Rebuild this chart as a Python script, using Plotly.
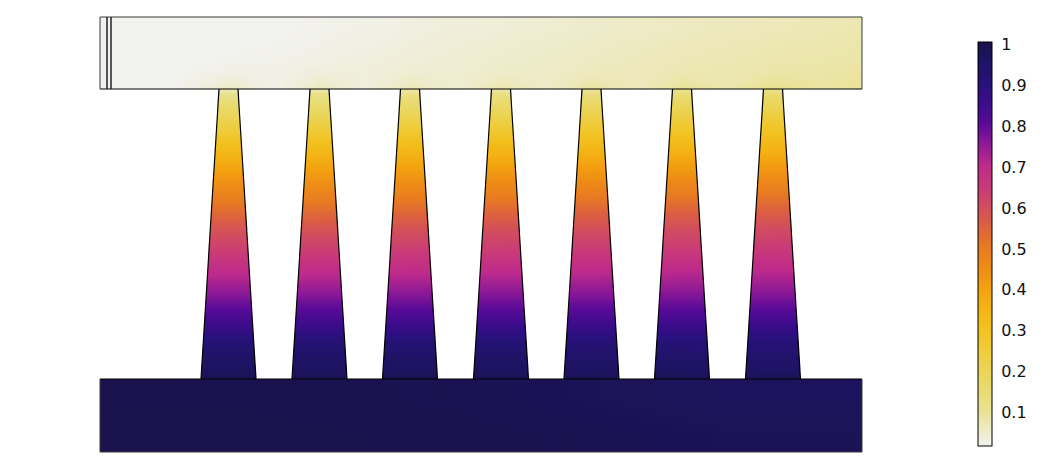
import plotly.graph_objects as go

# model coordinates (origin: lower-left corner of the base plate)
X_MAX, BASE_TOP, FIN_TOP, PLATE_TOP = 762, 73, 363, 435
fin_centers = [128.5, 219.5, 310, 401, 491.5, 582, 673]
fin_half_root = 27.5
fin_half_tip = 9.5
end_cap_lines = [7, 11]

# colour table
cb_values = [0.012, 0.05, 0.1, 0.15, 0.2, 0.25, 0.3, 0.35, 0.4, 0.45, 0.5, 0.55, 0.6, 0.65, 0.7, 0.75, 0.8, 0.85, 0.9, 0.95, 1.0]
cb_colors = ["#f2f2f0", "#eeebc8", "#e9e190", "#e9db70", "#ebd455", "#efcb38", "#f2c11f", "#f4b314", "#f3a010",
             "#ee8c16", "#e87a22", "#dc6040", "#d04c60", "#c8387a", "#bd2a8b", "#8f1a96", "#5a0a98", "#3c0c8c",
             "#27127a", "#1e1364", "#19124a"]
tick_vals = [0.1, 0.2, 0.3, 0.4, 0.5, 0.6, 0.7, 0.8, 0.9, 1]
# labels sit slightly below their tick marks in the reference
label_vals = [0.094, 0.194, 0.294, 0.394, 0.494, 0.594, 0.694, 0.794, 0.894, 0.994]
tick_text = ["0.1", "0.2", "0.3", "0.4", "0.5", "0.6", "0.7", "0.8", "0.9", "1"]

# top plate field
plate_x_edges = [0, 40, 110, 147, 201, 238, 292, 328, 383, 419, 473, 510, 564, 600, 654, 691, 745, 762]
plate_y_edges = [363, 369, 378, 395, 415, 435]
plate_z = [
    [.012, .014, .050, .020, .055, .030, .062, .040, .070, .050, .080, .060, .090, .075, .100, .085, .090],
    [.012, .014, .035, .020, .042, .030, .050, .040, .058, .050, .068, .060, .077, .070, .087, .082, .088],
    [.012, .013, .018, .020, .027, .030, .037, .040, .047, .050, .057, .060, .067, .070, .075, .078, .082],
    [.012, .012, .013, .015, .020, .026, .032, .037, .042, .047, .052, .057, .062, .066, .070, .073, .077],
    [.012, .012, .012, .013, .016, .021, .027, .032, .036, .041, .046, .051, .055, .059, .063, .067, .071],
]

# base plate field
base_x_edges = [0, 250, 500, 762]
base_y_edges = [0, 36, 73]
base_z = [[.998, .990, .975], [.992, .983, .965]]

# fin field (rows bottom to tip, columns fin 1 to 7)
fin_x_edges = [83, 174, 265, 356, 446, 537, 627, 718]
fin_y_edges = [73, 78, 112, 132, 152, 172, 192, 212, 232, 252, 272, 292, 312, 330, 344, 358, 363]
fin_z = [
    [.985, .985, .985, .985, .980, .980, .975],
    [.945, .945, .945, .945, .940, .940, .935],
    [.870, .870, .870, .870, .870, .870, .870],
    [.805, .805, .805, .805, .805, .805, .805],
    [.745, .745, .745, .750, .750, .750, .750],
    [.690, .690, .690, .695, .695, .700, .700],
    [.635, .635, .640, .640, .645, .645, .650],
    [.585, .585, .590, .595, .595, .600, .605],
    [.525, .525, .530, .535, .540, .545, .550],
    [.465, .465, .470, .475, .480, .485, .490],
    [.395, .400, .405, .410, .415, .420, .425],
    [.325, .330, .335, .340, .345, .350, .355],
    [.250, .255, .260, .265, .275, .280, .290],
    [.190, .195, .200, .205, .215, .225, .235],
    [.135, .140, .145, .150, .160, .170, .180],
    [.075, .080, .085, .090, .100, .110, .120],
]

fig = go.Figure()
fig.add_trace(go.Heatmap(x=fin_x_edges, y=fin_y_edges, z=fin_z, coloraxis="coloraxis", zsmooth="best", hoverinfo="skip"))

gap_x, gap_y, fin_x, fin_y = [], [], [], []
lefts = [70] + [c + fin_half_root for c in fin_centers]
lefts_tip = [70] + [c + fin_half_tip for c in fin_centers]
rights = [c - fin_half_root for c in fin_centers] + [730]
rights_tip = [c - fin_half_tip for c in fin_centers] + [730]
for a, at, b, bt in zip(lefts, lefts_tip, rights, rights_tip):
    gap_x += [a, at, bt, b, a, None]
    gap_y += [BASE_TOP, FIN_TOP, FIN_TOP, BASE_TOP, BASE_TOP, None]
for c in fin_centers:
    fin_x += [c - fin_half_root, c - fin_half_tip, None, c + fin_half_root, c + fin_half_tip, None]
    fin_y += [BASE_TOP, FIN_TOP, None, BASE_TOP, FIN_TOP, None]
fig.add_trace(go.Scatter(x=gap_x, y=gap_y, mode="none", fill="toself", fillcolor="white", hoverinfo="skip"))

fig.add_trace(go.Heatmap(x=plate_x_edges, y=plate_y_edges, z=plate_z, coloraxis="coloraxis", zsmooth="best", hoverinfo="skip"))
fig.add_trace(go.Heatmap(x=base_x_edges, y=base_y_edges, z=base_z, coloraxis="coloraxis", zsmooth="best", hoverinfo="skip"))

line = dict(color="#000000", width=1.2)
fig.add_trace(go.Scatter(x=fin_x, y=fin_y, mode="lines", line=line, hoverinfo="skip"))
fig.add_trace(go.Scatter(x=[0, X_MAX, None, 0, X_MAX], y=[FIN_TOP, FIN_TOP, None, BASE_TOP, BASE_TOP], mode="lines", line=line, hoverinfo="skip"))
grey = dict(color="#3a3a3a", width=1)
fig.add_trace(go.Scatter(x=[0, 0, X_MAX, X_MAX, None, 0, 0, X_MAX, X_MAX],
                         y=[FIN_TOP, PLATE_TOP, PLATE_TOP, FIN_TOP, None, BASE_TOP, 0, 0, BASE_TOP],
                         mode="lines", line=grey, hoverinfo="skip"))
fig.add_trace(go.Scatter(x=[end_cap_lines[0], end_cap_lines[0], None, end_cap_lines[1], end_cap_lines[1]],
                         y=[FIN_TOP, PLATE_TOP, None, FIN_TOP, PLATE_TOP], mode="lines",
                         line=dict(color="#222222", width=1.5), hoverinfo="skip"))

# colour-bar ticks on both sides of the bar
BAR_LEFT, BAR_RIGHT, BAR_BOTTOM, BAR_HEIGHT = 878, 892, 6, 404
tx, ty = [], []
for v in tick_vals[:-1]:
    yy = BAR_BOTTOM + (v - cb_values[0]) / (cb_values[-1] - cb_values[0]) * BAR_HEIGHT
    tx += [BAR_LEFT, BAR_LEFT + 4, None, BAR_RIGHT - 4, BAR_RIGHT, None]
    ty += [yy, yy, None, yy, yy, None]
fig.add_trace(go.Scatter(x=tx, y=ty, mode="lines", line=dict(color="black", width=1), hoverinfo="skip"))

scale = [[(v - cb_values[0]) / (cb_values[-1] - cb_values[0]), c] for v, c in zip(cb_values, cb_colors)]
# the page body adds 8 px on the left and top, so the figure is 8 px smaller than the window
fig.update_layout(
    width=1050, height=461, margin=dict(l=0, r=0, t=0, b=0), showlegend=False,
    paper_bgcolor="white", plot_bgcolor="white",
    xaxis=dict(range=[-92, 958], domain=[0, 1], visible=False, fixedrange=True),
    yaxis=dict(range=[-17, 444], domain=[0, 1], visible=False, fixedrange=True),
    coloraxis=dict(
        colorscale=scale, cmin=cb_values[0], cmax=cb_values[-1],
        colorbar=dict(
            x=970 / 1050, xanchor="left", y=23 / 461, yanchor="bottom",
            lenmode="pixels", len=404, thicknessmode="pixels", thickness=14,
            xpad=0, ypad=0, outlinewidth=1, outlinecolor="black",
            ticks="outside", ticklen=6, tickcolor="rgba(0,0,0,0)", tickwidth=1,
            tickvals=label_vals, ticktext=tick_text,
            tickfont=dict(family="DejaVu Sans", size=16, color="#111111"),
        ),
    ),
)
fig.write_html("out.html")
